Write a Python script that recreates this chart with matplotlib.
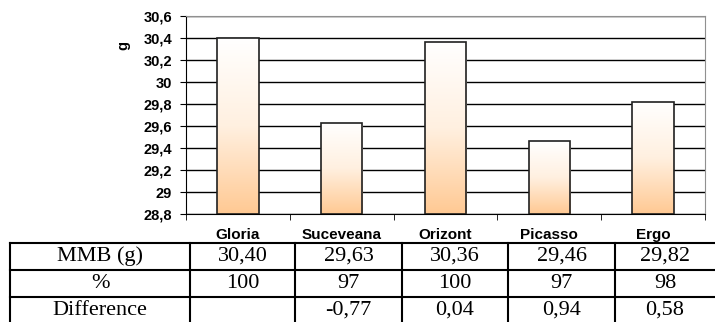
import numpy as np
import matplotlib.pyplot as plt
from matplotlib.lines import Line2D
from matplotlib.colors import LinearSegmentedColormap

soiuri = ['Gloria', 'Suceveana', 'Orizont', 'Picasso', 'Ergo']
mmb = [30.40, 29.63, 30.36, 29.46, 29.82]
procent = [100, 97, 100, 97, 98]
diferenta = [None, -0.77, 0.04, 0.94, 0.58]
randuri = ['MMB (g)', '%', 'Difference']

W, H = 715, 322


def virgula(v, zec):
    return f'{v:.{zec}f}'.replace('.', ',')


fig = plt.figure(figsize=(W / 100, H / 100), dpi=100)
ax = fig.add_axes([186 / W, 1 - 214 / H, (705 - 186) / W, (214 - 16) / H])

x = np.arange(len(soiuri))
yt = np.arange(28.8, 30.61, 0.2)
ax.set_yticks(yt)
ax.set_yticklabels([virgula(v, 1).replace(',0', '') if abs(v - round(v)) < 1e-6 else virgula(v, 1)
                    for v in yt], fontweight='bold', fontsize=10.5, family='Liberation Sans')
ax.yaxis.grid(True, color='black', lw=1)
ax.set_axisbelow(True)

# gradient alb -> piersica pentru fiecare coloana
cmap = LinearSegmentedColormap.from_list('piersica', ['#ffc993', '#fff0e0', '#ffffff'])
grad = np.linspace(0, 1, 256).reshape(-1, 1)
bare = ax.bar(x, np.array(mmb) - 28.8, bottom=28.8, width=0.4,
              facecolor='none', edgecolor='#202020', lw=1.2, zorder=3)
for b in bare:
    x0, y0 = b.get_x(), b.get_y()
    im = ax.imshow(grad, cmap=cmap, origin='lower', aspect='auto', zorder=2,
                   extent=[x0, x0 + b.get_width(), y0, y0 + b.get_height()])
    im.set_clip_path(b)
ax.set_xlim(-0.5, len(soiuri) - 0.5)
ax.set_ylim(28.8, 30.6)

ax.set_xticks(x)
ax.set_xticklabels(soiuri, fontweight='bold', fontsize=11, family='Liberation Sans')
ax.set_xticks(np.arange(-0.5, len(soiuri)), minor=True)
ax.tick_params(axis='x', which='major', length=0, pad=10)
ax.tick_params(axis='x', which='minor', length=4, direction='out', color='black')
ax.tick_params(axis='y', length=4, direction='out', pad=6)

for s in ['top', 'right']:
    ax.spines[s].set_color('#909090')
for s in ['left', 'bottom']:
    ax.spines[s].set_color('black')

fig.text(123 / W, 1 - 45 / H, 'g', rotation=90, fontweight='bold', fontsize=10.5,
         family='Liberation Sans', ha='center', va='center')

# tabelul de sub grafic
xc = [10, 190, 295, 402, 508, 615, 715]
yr = [243, 270, 297, 324]
for yy in yr:
    fig.add_artist(Line2D([xc[0] / W, xc[-1] / W], [1 - yy / H] * 2, color='black', lw=1.5))
for xx in xc[:-1]:
    fig.add_artist(Line2D([xx / W] * 2, [1 - yr[0] / H, 1 - yr[-1] / H], color='black', lw=1.5))

valori = [[virgula(v, 2) for v in mmb],
          [str(v) for v in procent],
          ['' if v is None else virgula(v, 2) for v in diferenta]]
for i, nume in enumerate(randuri):
    yc = 1 - (yr[i] + yr[i + 1]) / 2 / H
    fig.text((xc[0] + xc[1]) / 2 / W, yc, nume, ha='center', va='center',
             fontsize=16, family='Liberation Serif')
    for j, t in enumerate(valori[i]):
        fig.text((xc[j + 1] + xc[j + 2]) / 2 / W, yc, t, ha='center', va='center',
                 fontsize=16, family='Liberation Serif')

fig.savefig('out.png', dpi=100)
